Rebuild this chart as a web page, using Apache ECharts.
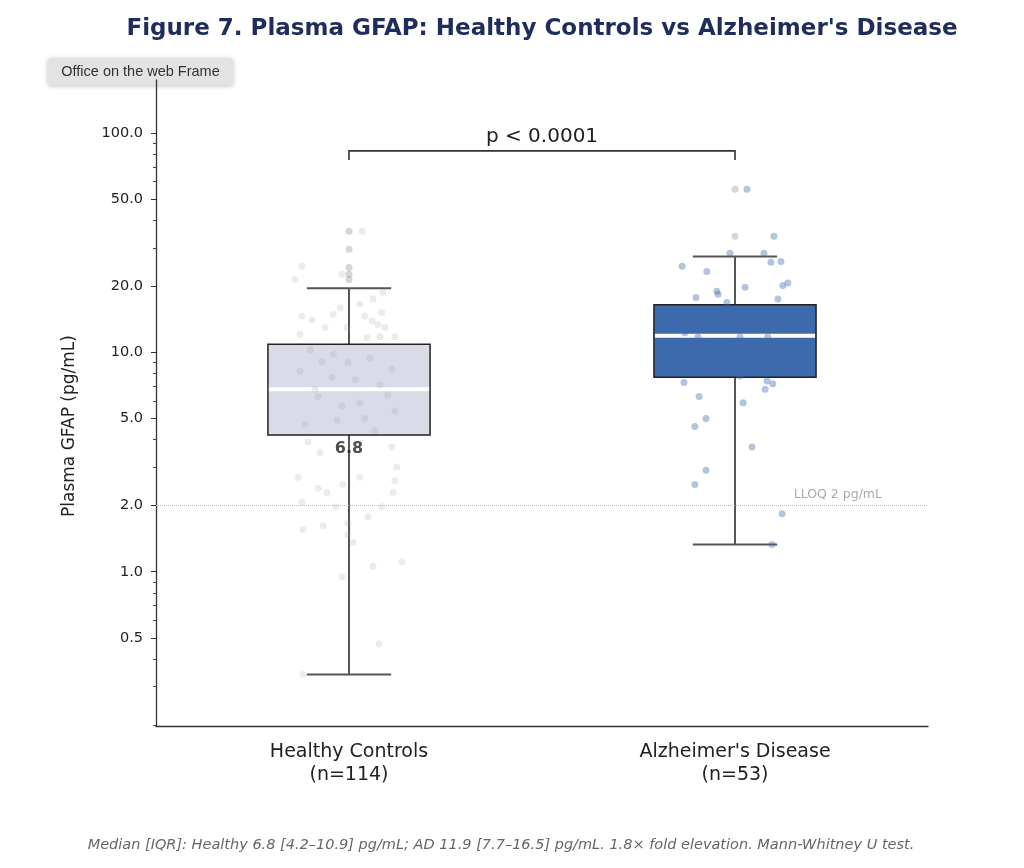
<!DOCTYPE html>
<html>
<head>
<meta charset="utf-8">
<title>Plasma GFAP</title>
<script src="https://cdn.jsdelivr.net/npm/echarts@6/dist/echarts.min.js"></script>
<style>
  html, body { margin: 0; padding: 0; background: #fff; }
  #chart { width: 1024px; height: 868px; }
</style>
</head>
<body>
<div id="chart"></div>
<script>
// categories
const groups = ['Healthy Controls\n(n=114)', "Alzheimer's Disease\n(n=53)"];

// box stats: [low whisker, Q1, median, Q3, high whisker]
const healthyBox = [0.34, 4.2, 6.8, 10.9, 19.6];
const adBox = [1.33, 7.7, 11.9, 16.5, 27.4];

// outliers (drawn on the group centre)
const healthyFliers = [35.7, 29.5, 24.4, 22.7, 21.5];
const adFliers = [55.5, 33.9];

// jittered individual points: [x offset from group centre, value]
const healthyPoints = [
    [0.034, 35.7], [-0.122, 24.7], [-0.140, 21.5], [-0.018, 22.7], [0.088, 18.8],
    [0.062, 17.5], [0.028, 16.6], [-0.023, 16.0], [-0.122, 14.6], [-0.096, 14.1],
    [-0.041, 14.9], [0.041, 14.6], [0.085, 15.2], [-0.062, 13.0], [-0.005, 13.0],
    [0.060, 13.9], [0.075, 13.4], [0.093, 13.0], [-0.127, 12.1], [0.047, 11.7],
    [0.080, 11.8], [0.119, 11.8],
    [-0.041, 9.8], [-0.003, 9.0], [0.111, 8.4], [-0.044, 7.7], [-0.018, 5.7],
    [-0.031, 4.9], [-0.100, 10.3], [0.054, 9.4], [-0.127, 8.2], [0.080, 7.1],
    [-0.080, 6.3], [0.028, 5.9], [0.119, 5.4], [-0.114, 4.7], [0.067, 4.4],
    [-0.070, 9.1], [0.100, 6.4], [0.016, 7.5], [-0.088, 6.8], [0.041, 5.0],
    [-0.106, 3.9], [-0.075, 3.5], [0.111, 3.7], [0.124, 3.0], [-0.132, 2.7],
    [-0.080, 2.4], [-0.057, 2.3], [-0.016, 2.5], [0.028, 2.7], [0.119, 2.6],
    [0.114, 2.3], [-0.122, 2.07], [-0.034, 1.98], [0.085, 1.98], [0.049, 1.78],
    [-0.119, 1.56], [-0.067, 1.62], [-0.003, 1.67], [-0.003, 1.48], [0.010, 1.36],
    [0.062, 1.06], [0.137, 1.11], [-0.018, 0.95], [0.078, 0.47], [-0.119, 0.34]
];
const adPoints = [
    [0.031, 55.5], [0.101, 33.9], [-0.013, 28.3], [0.075, 28.3], [-0.137, 24.7],
    [-0.073, 23.4], [0.093, 25.8], [0.119, 26.0], [0.026, 19.8], [-0.047, 19.0],
    [0.124, 20.2], [0.137, 20.7], [-0.101, 17.8], [-0.021, 16.9], [-0.044, 18.4],
    [0.111, 17.5],
    [-0.135, 13.9], [-0.130, 12.3], [-0.096, 11.8], [-0.065, 13.0], [0.013, 11.8],
    [0.085, 11.8], [-0.039, 13.9], [-0.091, 9.8], [0.057, 10.1], [0.098, 9.1],
    [0.124, 8.4], [-0.057, 8.2], [-0.018, 9.8], [-0.117, 15.7], [0.039, 14.9],
    [0.000, 10.7], [0.070, 13.4], [-0.078, 10.7],
    [-0.132, 7.3], [0.083, 7.4], [0.098, 7.2], [0.013, 7.8],
    [-0.093, 6.3], [0.078, 6.8], [0.021, 5.9], [-0.075, 5.0], [-0.104, 4.6],
    [0.044, 3.7], [-0.075, 2.9], [-0.104, 2.5], [0.122, 1.84], [0.096, 1.33]
];

// y axis ticks
const majorTicks = [0.5, 1, 2, 5, 10, 20, 50, 100];
const minorTicks = [0.2, 0.3, 0.4, 0.6, 0.7, 0.8, 0.9, 3, 4, 6, 7, 8, 9, 30, 40, 60, 70, 80, 90];

// annotations
const lloq = 2;
const pBracket = [0, 1, 83, 75.4]; // from group, to group, bar level, tick end
const pLabel = 'p < 0.0001';
const footnote = 'Median [IQR]: Healthy 6.8 [4.2\u201310.9] pg/mL; AD 11.9 [7.7\u201316.5] pg/mL. 1.8\u00d7 fold elevation. Mann-Whitney U test.';

const boxFill = ['#d9dbe9', '#3d6aad'];
const font = 'DejaVu Sans';

const chart = echarts.init(document.getElementById('chart'));

// 画箱体、须线和中位线
const renderBox = (params, api) => {
    const i = api.value(0);
    const lo = api.coord([i, api.value(1)]);
    const q1 = api.coord([i, api.value(2)]);
    const md = api.coord([i, api.value(3)]);
    const q3 = api.coord([i, api.value(4)]);
    const hi = api.coord([i, api.value(5)]);
    const band = api.size([1, 0])[0];
    const bw = band * 0.42;
    const cap = bw * 0.52;
    const cx = q1[0];
    const whisker = {stroke: '#555', lineWidth: 2};
    return {
        type: 'group',
        children: [
            {type: 'line', shape: {x1: cx, y1: q3[1], x2: cx, y2: hi[1]}, style: whisker},
            {type: 'line', shape: {x1: cx, y1: q1[1], x2: cx, y2: lo[1]}, style: whisker},
            {type: 'line', shape: {x1: cx - cap / 2, y1: hi[1], x2: cx + cap / 2, y2: hi[1]}, style: whisker},
            {type: 'line', shape: {x1: cx - cap / 2, y1: lo[1], x2: cx + cap / 2, y2: lo[1]}, style: whisker},
            {
                type: 'rect',
                shape: {x: cx - bw / 2, y: q3[1], width: bw, height: q1[1] - q3[1]},
                style: {fill: boxFill[i], stroke: '#222', lineWidth: 1.5}
            },
            {
                type: 'line',
                shape: {x1: cx - bw / 2 + 1, y1: md[1], x2: cx + bw / 2 - 1, y2: md[1]},
                style: {stroke: '#fff', lineWidth: 4}
            }
        ]
    };
};

// 显著性括号
const renderBracket = (params, api) => {
    const a = api.coord([api.value(0), api.value(3)]);
    const b = api.coord([api.value(0), api.value(2)]);
    const c = api.coord([api.value(1), api.value(2)]);
    const d = api.coord([api.value(1), api.value(3)]);
    return {
        type: 'group',
        children: [
            {type: 'polyline', shape: {points: [a, b, c, d]}, style: {stroke: '#333', lineWidth: 1.6, fill: null}},
            {
                type: 'text', x: (b[0] + c[0]) / 2, y: b[1] - 4,
                style: {text: pLabel, align: 'center', verticalAlign: 'bottom', fontSize: 20, fontFamily: font, fill: '#222'}
            }
        ]
    };
};

const option = {
    animation: false,
    backgroundColor: '#fff',
    grid: {left: 156, right: 96, top: 80, bottom: 142, outerBoundsMode: 'none'},
    xAxis: [{
        type: 'category',
        data: groups,
        axisLine: {onZero: false, lineStyle: {color: '#333', width: 1.3}},
        axisTick: {alignWithLabel: true, length: 5, lineStyle: {color: '#333'}},
        axisLabel: {color: '#222', fontSize: 19, fontFamily: font, lineHeight: 23, margin: 15},
        splitLine: {show: false}
    }, {
        type: 'value', min: -0.5, max: 1.5, show: false
    }],
    yAxis: [{
        type: 'log', logBase: 10, min: 0.198, max: 174.6,
        axisLine: {show: true, onZero: false, lineStyle: {color: '#333', width: 1.3}},
        axisTick: {show: true, length: 5, customValues: majorTicks, lineStyle: {color: '#333'}},
        axisLabel: {
            customValues: majorTicks, formatter: v => Number(v).toFixed(1),
            color: '#222', fontSize: 14.5, fontFamily: font, margin: 13
        },
        splitLine: {show: false}
    }, {
        type: 'log', logBase: 10, min: 0.198, max: 174.6, position: 'left',
        axisLine: {show: false, onZero: false},
        axisTick: {show: true, length: 3, customValues: minorTicks, lineStyle: {color: '#444'}},
        axisLabel: {show: false},
        splitLine: {show: false}
    }],
    series: [
        {
            type: 'custom', name: 'box', xAxisIndex: 0, yAxisIndex: 0, z: 2, silent: true,
            renderItem: renderBox,
            data: [[0, ...healthyBox], [1, ...adBox]]
        },
        {
            type: 'scatter', name: 'healthy', xAxisIndex: 1, yAxisIndex: 0, z: 3, silent: true,
            symbolSize: 7,
            itemStyle: {color: 'rgba(150,150,150,0.22)'},
            data: healthyPoints.map(p => [0 + p[0], p[1]])
        },
        {
            type: 'scatter', name: 'fliers', xAxisIndex: 0, yAxisIndex: 0, z: 3, silent: true,
            symbolSize: 7,
            itemStyle: {color: 'rgba(140,140,140,0.45)'},
            data: healthyFliers.map(v => [0, v]).concat(adFliers.map(v => [1, v]))
        },
        {
            type: 'scatter', name: 'ad', xAxisIndex: 1, yAxisIndex: 0, z: 3, silent: true,
            symbolSize: 7,
            itemStyle: {color: 'rgba(70,108,172,0.5)'},
            data: adPoints.map(p => [1 + p[0], p[1]]),
            markLine: {
                silent: true, symbol: 'none',
                lineStyle: {type: 'dotted', color: '#bbb', width: 1},
                label: {
                    show: true, position: 'insideEndTop', formatter: 'LLOQ 2 pg/mL',
                    color: '#aaa', fontSize: 12.5, fontFamily: font, distance: [46, 4]
                },
                data: [{yAxis: lloq}]
            }
        },
        {
            type: 'scatter', name: 'medianLabel', xAxisIndex: 0, yAxisIndex: 0, z: 4, silent: true,
            symbolSize: 0,
            label: {
                show: true, position: 'bottom', distance: 6,
                formatter: () => healthyBox[2].toFixed(1),
                color: '#222', fontSize: 16, fontWeight: 'bold', fontFamily: font
            },
            data: [[0, healthyBox[1]]]
        },
        {
            type: 'custom', name: 'bracket', xAxisIndex: 0, yAxisIndex: 0, z: 4, silent: true,
            renderItem: renderBracket,
            data: [pBracket]
        }
    ],
    graphic: [
        {
            type: 'text', x: 542, y: 29,
            style: {
                text: "Figure 7. Plasma GFAP: Healthy Controls vs Alzheimer's Disease",
                align: 'center', verticalAlign: 'middle',
                fontSize: 23, fontWeight: 'bold', fontFamily: font, fill: '#1f2d5c'
            }
        },
        {
            type: 'text', x: 70, y: 426, rotation: Math.PI / 2,
            style: {
                text: 'Plasma GFAP (pg/mL)', align: 'center', verticalAlign: 'middle',
                fontSize: 17, fontFamily: font, fill: '#222'
            }
        },
        {
            type: 'group', left: 48, top: 58, z: 10,
            children: [
                {
                    type: 'rect', shape: {x: 0, y: 0, width: 185, height: 27, r: 3},
                    style: {fill: '#e3e3e3', shadowBlur: 5, shadowColor: 'rgba(0,0,0,0.25)', shadowOffsetY: 1}
                },
                {
                    type: 'text', x: 92.5, y: 13.5,
                    style: {
                        text: 'Office on the web Frame', align: 'center', verticalAlign: 'middle',
                        fontSize: 14.5, fontFamily: 'Liberation Sans', fill: '#333'
                    }
                }
            ]
        },
        {
            type: 'text', x: 501, y: 845,
            style: {
                text: footnote, align: 'center', verticalAlign: 'middle',
                fontSize: 14.5, fontStyle: 'italic', fontFamily: font, fill: '#666'
            }
        }
    ]
};

chart.setOption(option);
</script>
</body>
</html>
